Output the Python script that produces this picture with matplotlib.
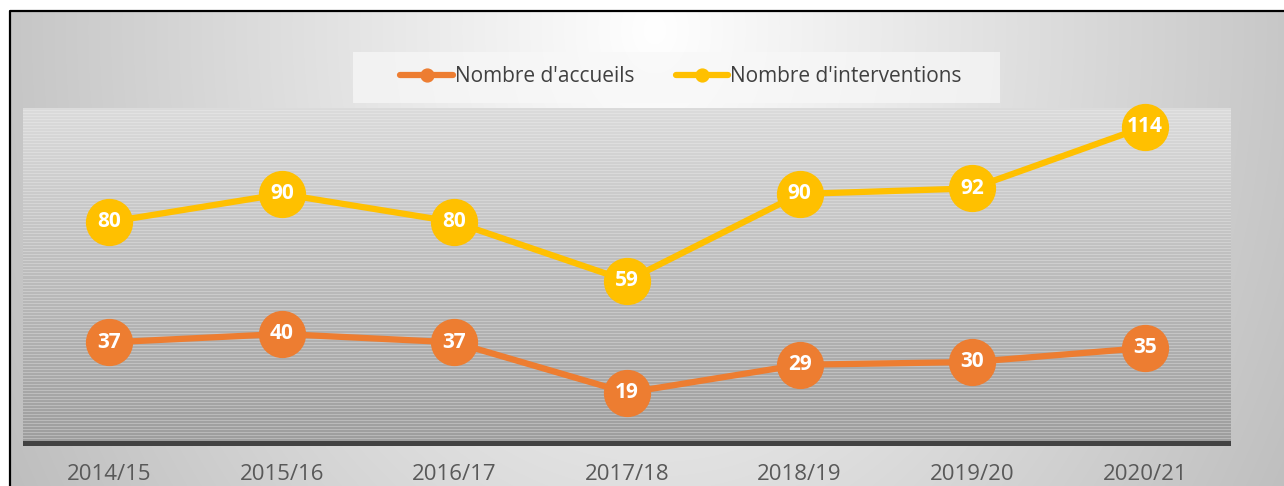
import numpy as np
import matplotlib.pyplot as plt
from matplotlib.patches import Rectangle

saisons = ["2014/15", "2015/16", "2016/17", "2017/18", "2018/19", "2019/20", "2020/21"]
accueils = [37, 40, 37, 19, 29, 30, 35]
interventions = [80, 90, 80, 59, 90, 92, 114]

orange = "#ed7d31"
jaune = "#ffc000"

plt.rcParams['font.family'] = ['Open Sans', 'DejaVu Sans']

W, H = 1284, 486
fig = plt.figure(figsize=(W / 100, H / 100), dpi=100)

# fond du graphique (degrade radial) avec cadre noir a gauche et en haut
bg = fig.add_axes([0, 0, 1, 1], zorder=0)
bg.set_xlim(0, W)
bg.set_ylim(H, 0)
bg.axis('off')
yy, xx = np.mgrid[0:H, 0:W]
r = np.sqrt(((xx - 650) / 640.0) ** 2 + ((yy - 20) / 825.0) ** 2)
val = np.clip(1.0 - 0.22 * r, 0.74, 1)
bg.imshow(np.dstack([val] * 3), extent=(9, W, H, 11), aspect='auto', zorder=0)
bg.plot([9.5, 9.5, W], [H, 11.5, 11.5], color='black', lw=1.6, zorder=2)
bg.add_patch(Rectangle((353, 52), 647, 51, color='#f8f8f8', alpha=0.7, lw=0, zorder=1))

# zone de traçage
x0, x1, ytop, ybot = 23, 1231, 108, 446
ax = fig.add_axes([x0 / W, (H - ybot) / H, (x1 - x0) / W, (ybot - ytop) / H], zorder=1)
ax.set_xlim(-0.5, len(saisons) - 0.5)
ymax = 120.7
ax.set_ylim(0, ymax)

rows = ybot - ytop
t = np.linspace(0, 1, rows)[:, None]
base = 0.87 - 0.22 * t
stripe = np.where(np.arange(rows)[:, None] % 3 == 0, 1.0, -0.5) * (0.02 + 0.05 * t)
g = np.clip(base + stripe, 0, 1)
g[-5:] = 0.26
img = np.repeat(g, 10, axis=1)
ax.imshow(np.dstack([img] * 3), extent=(-0.5, len(saisons) - 0.5, 0, ymax),
          aspect='auto', interpolation='nearest', zorder=0)

x = np.arange(len(saisons))
ax.plot(x, accueils, color=orange, lw=4.5, marker='o', ms=33, mec=orange,
        label="Nombre d'accueils", zorder=3, clip_on=False)
ax.plot(x, interventions, color=jaune, lw=4.5, marker='o', ms=33, mec=jaune,
        label="Nombre d'interventions", zorder=3, clip_on=False)
for xi, a, b in zip(x, accueils, interventions):
    ax.text(xi, a, str(a), color='white', fontsize=15, fontweight='bold',
            ha='center', va='center', zorder=4)
    ax.text(xi, b, str(b), color='white', fontsize=15, fontweight='bold',
            ha='center', va='center', zorder=4)

ax.set_xticks(x)
ax.set_xticklabels(saisons, fontsize=16, color='#595959')
ax.tick_params(axis='x', length=0, pad=13)
ax.set_yticks([])
for s in ax.spines.values():
    s.set_visible(False)

handles, labels = ax.get_legend_handles_labels()
leg = fig.legend(handles, labels, loc='center', bbox_to_anchor=(681 / W, 1 - 77 / H),
                 ncol=2, frameon=False, fontsize=15, markerscale=0.28,
                 handlelength=2.5, handletextpad=0.1, columnspacing=2.0)
for txt in leg.get_texts():
    txt.set_color('#404040')
for ln in leg.get_lines():
    ln.set_solid_capstyle('round')

fig.savefig('out.png', dpi=100)
